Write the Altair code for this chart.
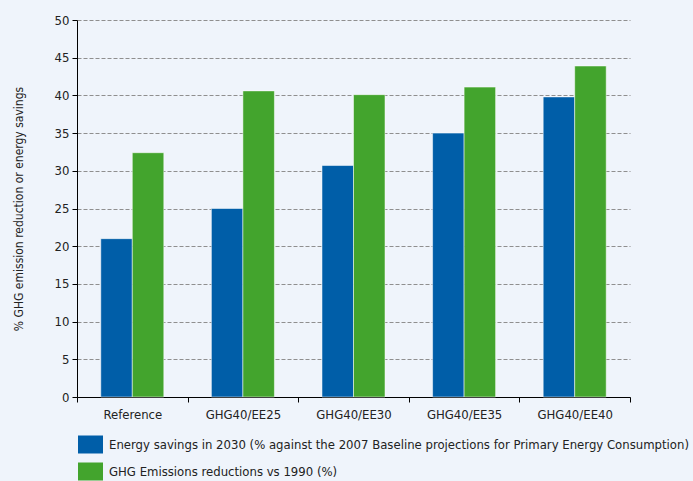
import altair as alt
import pandas as pd

scenarios = ["Reference", "GHG40/EE25", "GHG40/EE30", "GHG40/EE35", "GHG40/EE40"]
energy_savings = [21.0, 25.0, 30.7, 35.0, 39.8]
ghg_reductions = [32.4, 40.6, 40.1, 41.1, 43.9]
series_names = [
    "Energy savings in 2030 (% against the 2007 Baseline projections for Primary Energy Consumption)",
    "GHG Emissions reductions vs 1990 (%)",
]
colors = ["#005ea8", "#43a42d"]

rows = []
for i, s in enumerate(scenarios):
    rows.append({"scenario": s, "series": series_names[0], "value": energy_savings[i]})
    rows.append({"scenario": s, "series": series_names[1], "value": ghg_reductions[i]})
df = pd.DataFrame(rows)

FONT = "DejaVu Sans Condensed"

bars = alt.Chart(df).mark_bar(stroke="#ffffff", strokeOpacity=0.5, strokeWidth=1).encode(
    x=alt.X(
        "scenario:N",
        sort=scenarios,
        title=None,
        scale=alt.Scale(paddingInner=0, paddingOuter=0),
        axis=alt.Axis(
            labelAngle=0, tickBand="extent", domainColor="#000000", tickColor="#000000",
            tickSize=5, labelFont=FONT, labelFontSize=13, labelColor="#222222",
            labelPadding=6, grid=False,
        ),
    ),
    xOffset=alt.XOffset("series:N", sort=series_names,
                        scale=alt.Scale(paddingInner=0, paddingOuter=0.755)),
    y=alt.Y(
        "value:Q",
        title="%  GHG emission reduction or energy savings",
        scale=alt.Scale(domain=[0, 50]),
        axis=alt.Axis(
            values=[0, 5, 10, 15, 20, 25, 30, 35, 40, 45, 50],
            domainColor="#000000", tickColor="#000000", tickSize=5,
            labelFont=FONT, labelFontSize=13, labelColor="#222222", labelPadding=3,
            grid=True, gridColor="#8f8f8f", gridDash=[4, 2], gridWidth=1,
            titleFont=FONT, titleFontSize=12, titleFontWeight="normal",
            titleColor="#222222", titlePadding=29,
        ),
    ),
    color=alt.Color(
        "series:N",
        sort=series_names,
        scale=alt.Scale(domain=series_names, range=colors),
        legend=alt.Legend(
            title=None, orient="none", legendX=1, legendY=412, direction="vertical",
            symbolType="M-1,-0.72H1V0.72H-1Z", symbolSize=625, symbolStrokeWidth=0,
            labelFont=FONT, labelFontSize=13, labelColor="#222222",
            labelLimit=700, rowPadding=5, labelOffset=6,
        ),
    ),
)

chart = alt.layer(bars).properties(
    width=553,
    height=377,
    autosize=alt.AutoSizeParams(type="none"),
    padding={"left": 77, "top": 20, "right": 63, "bottom": 84},
    background="#eff4fb",
).configure_view(stroke=None)

chart.save("out.html", embed_options={"renderer": "svg", "actions": False})
